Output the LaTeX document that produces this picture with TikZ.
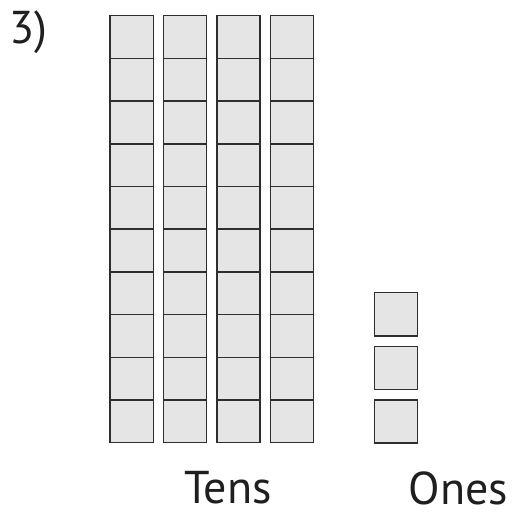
\documentclass[tikz,border=0pt]{standalone}
\usepackage{fontspec}
\setmainfont{PT Sans}
\usepackage{tikz}
\usetikzlibrary{positioning}
\tikzset{
  cell/.style={draw=black!82, fill=black!10, line width=1.5pt},
  lbl/.style={anchor=base west, inner sep=0pt, font=\fontsize{46}{46}\selectfont, text=black!88}
}

\begin{document}
\begin{tikzpicture}[x=1pt,y=-1pt]
\useasboundingbox (0,0) rectangle (512,513);

\node[lbl] (num) at (9,43.3) {3)};

% tens rods
\foreach \col/\xs in {1/110, 2/163.3, 3/216.8, 4/270.3} {
\begin{scope}[xshift=\xs pt]
\foreach \r in {0,...,9}
  \draw[cell] (0,15.7+42.7*\r) rectangle ++(43.4,42.7);
\end{scope}
}

% ones
\begin{scope}[xshift=374.3pt]
\foreach \r in {0,1,2}
  \draw[cell] (0,292.7+53.6*\r) rectangle ++(43.4,43.3);
\end{scope}

\node[lbl] (tens) at (184,503.5) {Tens};
\node[lbl] (ones) at (408.5,504) {Ones};

\end{tikzpicture}
\end{document}
